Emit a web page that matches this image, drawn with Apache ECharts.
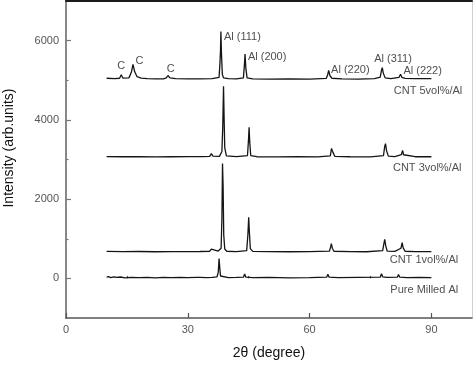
<!DOCTYPE html>
<html><head><meta charset="utf-8">
<script src="https://cdn.jsdelivr.net/npm/echarts@6/dist/echarts.min.js"></script>
<style>html,body{margin:0;padding:0;background:#fff}#c{width:473px;height:365px}</style>
</head><body><div id="c"></div>
<script>
// ---- data (2θ in degrees, intensity in arb. units, stacked offsets as read) ----
var pureMilledAl = [[10,30],[10.5,45],[11,20],[11.8,40],[12.5,25],[13.5,35],[14.5,15],[16,25],[18,20],[20,25],[22,15],[24,25],[26,20],[28,25],[30,20],[32.2,25],[32.6,70],[33.0,25],[34.5,20],[36,25],[37.2,40],[37.5,150],[37.7,500],[37.85,300],[38.05,60],[38.5,25],[40,20],[42,25],[43.7,30],[44.0,110],[44.3,30],[46,20],[50,25],[55,15],[60,20],[64.2,30],[64.5,105],[64.8,30],[67,20],[72,25],[77.4,30],[77.7,115],[78.0,40],[79,25],[81.6,30],[81.9,95],[82.2,30],[84,20],[87,25],[90,20]];
var cnt1 = [[10,680],[14,675],[18,678],[22,672],[26,676],[30,674],[33,678],[35.4,685],[35.8,740],[36.2,690],[37.5,690],[38.2,760],[38.4,1500],[38.55,2900],[38.7,2300],[38.85,1100],[39.1,740],[39.6,685],[42,675],[44.5,700],[44.8,1100],[45.0,1540],[45.15,1200],[45.4,750],[46,680],[50,675],[55,672],[60,675],[64.9,690],[65.2,800],[65.35,875],[65.6,760],[66,685],[70,675],[74,672],[78,700],[78.3,880],[78.5,985],[78.75,820],[79.1,690],[81,680],[82.5,760],[82.8,900],[83.05,770],[83.5,685],[86,676],[90,675]];
var cnt3 = [[10,3075],[14,3070],[18,3072],[22,3066],[26,3070],[30,3072],[33.6,3075],[33.8,3110],[34.0,3075],[35.4,3080],[35.8,3150],[36.2,3085],[37.8,3080],[38.4,3200],[38.6,3800],[38.8,4850],[38.95,4000],[39.1,3300],[39.5,3090],[42,3070],[44.7,3100],[44.95,3500],[45.1,3815],[45.25,3450],[45.5,3100],[47,3070],[52,3065],[57,3072],[62,3068],[65.1,3090],[65.4,3280],[65.5,3320],[65.75,3180],[66.2,3080],[70,3070],[75,3068],[78.2,3100],[78.5,3330],[78.7,3400],[78.95,3220],[79.4,3085],[81,3072],[82.6,3120],[82.9,3230],[83.15,3120],[83.6,3078],[86,3070],[90,3070]];
var cnt5 = [[10,5050],[12,5040],[13.2,5050],[13.6,5140],[14.0,5055],[15.5,5060],[16.1,5200],[16.5,5400],[16.9,5220],[17.5,5090],[18.5,5055],[20,5040],[22,5035],[24,5035],[24.7,5060],[25.1,5120],[25.6,5060],[27,5040],[30,5035],[33,5035],[36,5040],[37.7,5070],[37.9,5400],[38.05,5730],[38.15,6230],[38.3,5650],[38.5,5150],[38.8,5060],[40,5040],[42,5035],[43.7,5060],[43.95,5400],[44.1,5660],[44.3,5300],[44.6,5060],[46,5035],[50,5030],[55,5035],[60,5030],[64.1,5045],[64.45,5140],[64.7,5250],[65.0,5120],[65.5,5050],[68,5035],[72,5030],[76,5040],[77.4,5080],[77.7,5250],[77.9,5320],[78.15,5180],[78.6,5060],[80,5040],[82.0,5070],[82.4,5150],[82.75,5070],[83.5,5045],[86,5040],[90,5040]];

var peakLabels = ['Al (111)','Al (200)','Al (220)','Al (311)','Al (222)'];
var peakLabelX = [38.9, 44.8, 65.3, 75.9, 83.1];
var peakLabelY = [6100, 5575, 5250, 5525, 5238];
var carbonLabels = ['C','C','C'];
var carbonLabelX = [13.6, 18.1, 25.8];
var carbonLabelY = [5358, 5483, 5275];
var sampleNames = ['CNT 5vol%/Al','CNT 3vol%/Al','CNT 1vol%/Al','Pure Milled Al'];
var sampleLabelX = [97.6, 97.4, 96.6, 96.6];
var sampleLabelY = [4733, 2775, 458, -300];

var xMajorTicks = [0, 30, 60, 90];
var xMinorTicks = [15, 45, 75];
var yMajorTicks = [0, 2000, 4000, 6000];
var yMinorTicks = [1000, 3000, 5000];

// ---- chart ----
var FONT = '"Liberation Sans", Arial, sans-serif';
function zipLabels(xs, ys, ts){ return xs.map(function(x,i){ return {value:[x, ys[i]], name: ts[i]}; }); }
function lineSeries(d){ return {type:'line', data:d, showSymbol:false, symbol:'none', smooth:false, lineStyle:{color:'#151515', width:1.3}, xAxisIndex:0, yAxisIndex:0, z:3, animation:false}; }
function labelSeries(d, align){
  return {type:'scatter', data:d, symbolSize:0, xAxisIndex:0, yAxisIndex:0, silent:true, animation:false,
    label:{show:true, position:[0,0], align:align, verticalAlign:'middle', formatter:'{b}', color:'#222', fontSize:11, fontFamily:FONT}};
}
function plain(v){ return String(v); }

var chart = echarts.init(document.getElementById('c'), null, {renderer:'canvas'});
chart.setOption({
  animation:false,
  backgroundColor:'#fff',
  grid:{left:66, right:1, top:1, bottom:44, containLabel:false},
  xAxis:[
    {type:'value', min:0, max:100, position:'bottom',
     axisLine:{show:true, onZero:false, lineStyle:{color:'#555', width:1.5}},
     axisTick:{show:true, inside:true, length:5, customValues:xMajorTicks, lineStyle:{color:'#555', width:1.2}},
     axisLabel:{show:true, margin:6, customValues:xMajorTicks, formatter:plain, color:'#555', fontSize:11, fontFamily:FONT},
     splitLine:{show:false},
     name:'2θ (degree)', nameLocation:'middle', nameGap:28,
     nameTextStyle:{color:'#111', fontSize:14, fontFamily:FONT}},
    {type:'value', min:0, max:100, position:'bottom',
     axisLine:{show:false}, axisLabel:{show:false}, splitLine:{show:false},
     axisTick:{show:true, inside:true, length:2.5, customValues:xMinorTicks, lineStyle:{color:'#555', width:1.2}}},
    {type:'value', min:0, max:100, position:'top',
     axisLine:{show:true, onZero:false, lineStyle:{color:'#1a1a1a', width:2}},
     axisTick:{show:false}, axisLabel:{show:false}, splitLine:{show:false}}
  ],
  yAxis:[
    {type:'value', min:-1000, max:7000, position:'left',
     axisLine:{show:true, onZero:false, lineStyle:{color:'#888', width:2}},
     axisTick:{show:true, inside:true, length:5, customValues:yMajorTicks, lineStyle:{color:'#777', width:1.2}},
     axisLabel:{show:true, margin:7, customValues:yMajorTicks, formatter:plain, color:'#555', fontSize:11, fontFamily:FONT},
     splitLine:{show:false}},
    {type:'value', min:-1000, max:7000, position:'left',
     axisLine:{show:false}, axisLabel:{show:false}, splitLine:{show:false},
     axisTick:{show:true, inside:true, length:2.5, customValues:yMinorTicks, lineStyle:{color:'#777', width:1.2}}},
    {type:'value', min:-1000, max:7000, position:'right',
     axisLine:{show:true, onZero:false, lineStyle:{color:'#d0d0d0', width:1}},
     axisTick:{show:false}, axisLabel:{show:false}, splitLine:{show:false}}
  ],
  graphic:[
    {type:'text', x:9, y:148, rotation:Math.PI/2,
     style:{text:'Intensity (arb.units)', fill:'#111', fontSize:14, fontFamily:FONT, align:'center', verticalAlign:'middle'}}
  ],
  series:[
    lineSeries(pureMilledAl), lineSeries(cnt1), lineSeries(cnt3), lineSeries(cnt5),
    labelSeries(zipLabels(peakLabelX, peakLabelY, peakLabels), 'left'),
    labelSeries(zipLabels(carbonLabelX, carbonLabelY, carbonLabels), 'center'),
    labelSeries(zipLabels(sampleLabelX, sampleLabelY, sampleNames), 'right')
  ]
});
</script></body></html>
